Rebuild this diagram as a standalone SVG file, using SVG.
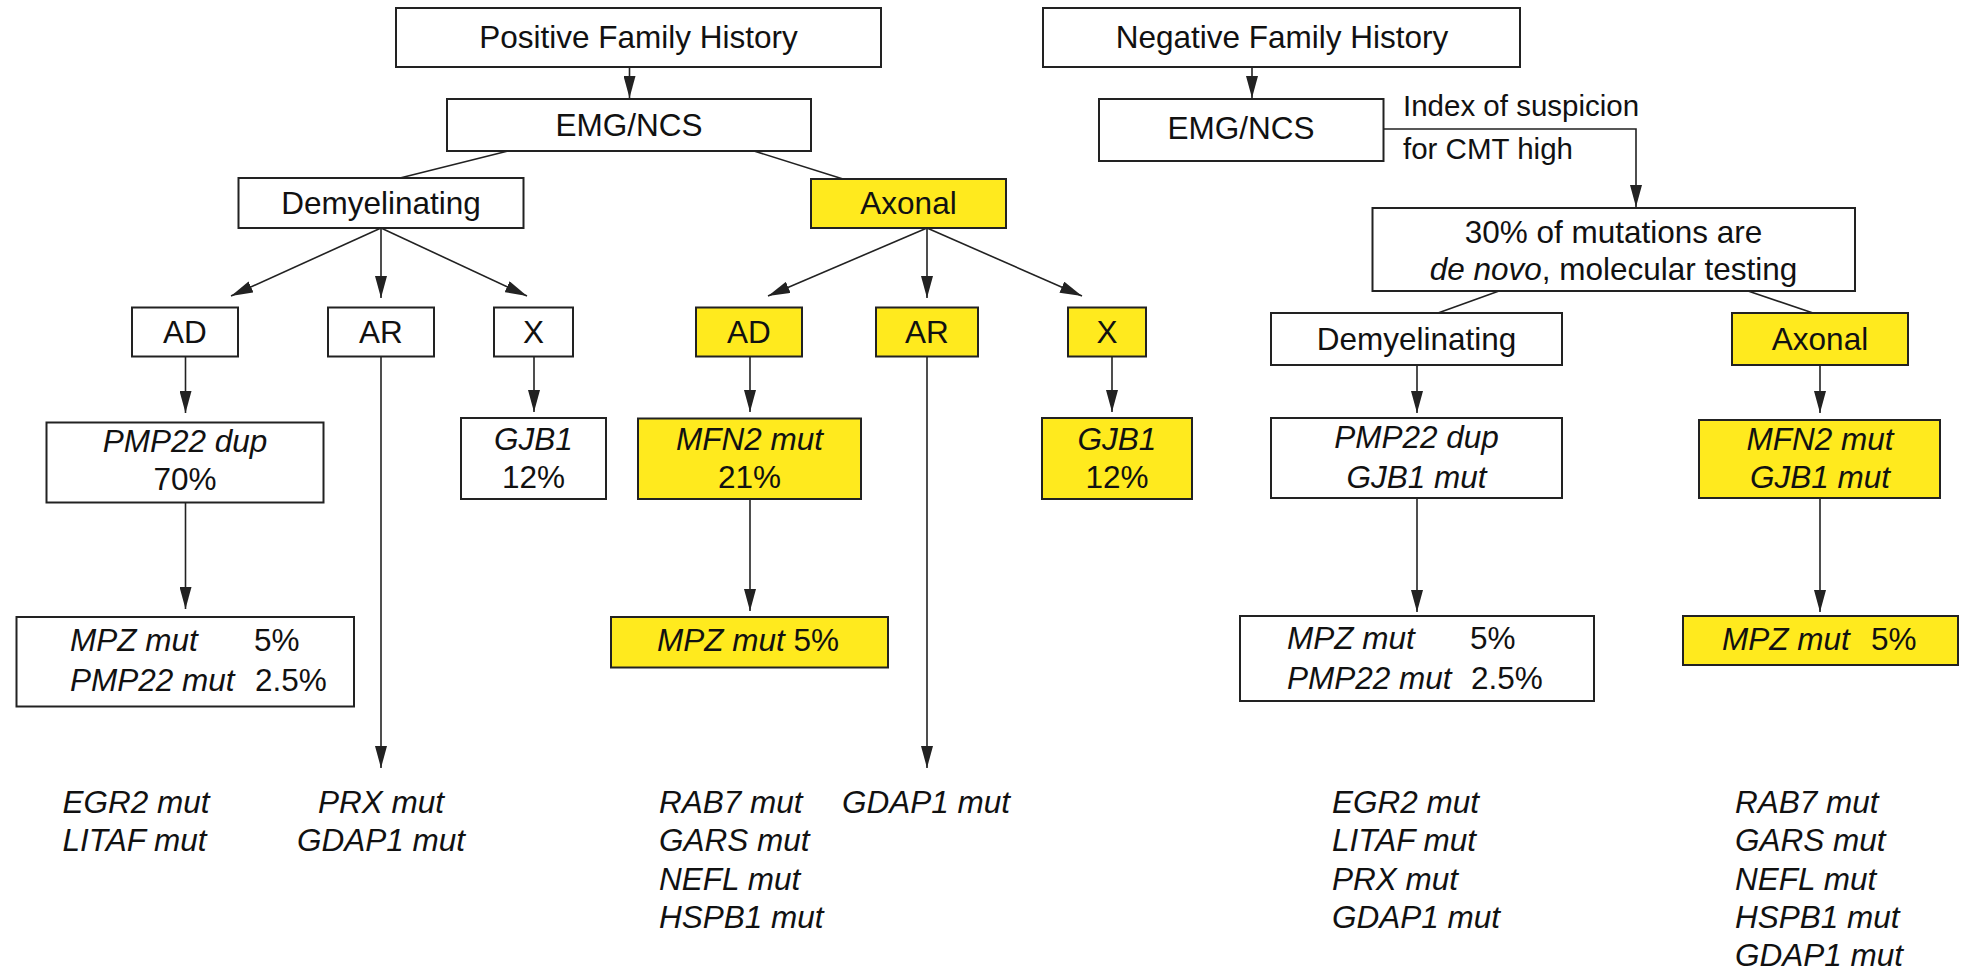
<svg xmlns="http://www.w3.org/2000/svg" width="1966" height="971" viewBox="0 0 1966 971">
<style>
.b{fill:#fff;stroke:#222;stroke-width:2}
.y{fill:#FFEA1E;stroke:#222;stroke-width:2}
text{font-family:"Liberation Sans",Arial,sans-serif;font-size:31.5px;fill:#111}
.c{text-anchor:middle}
.i{font-style:italic}
.s{font-size:29.5px}
#connectors line,#connectors polyline{stroke:#222;stroke-width:1.6;fill:none}
</style>
<defs>
<marker id="ah" markerUnits="userSpaceOnUse" markerWidth="22" markerHeight="12" refX="22" refY="6" orient="auto">
<path d="M0,0 L22,6 L0,12 z" fill="#222"/>
</marker>
</defs>
<rect width="1966" height="971" fill="#fff"/>
<g id="connectors">
<line x1="629.5" y1="67" x2="629.5" y2="98" marker-end="url(#ah)"/>
<line x1="508" y1="151" x2="400" y2="178"/>
<line x1="754" y1="151" x2="843" y2="179"/>
<line x1="381" y1="228" x2="231" y2="296" marker-end="url(#ah)"/>
<line x1="381" y1="228" x2="381" y2="298" marker-end="url(#ah)"/>
<line x1="381" y1="228" x2="527" y2="296" marker-end="url(#ah)"/>
<line x1="927" y1="228" x2="768" y2="296" marker-end="url(#ah)"/>
<line x1="927" y1="228" x2="927" y2="298" marker-end="url(#ah)"/>
<line x1="927" y1="228" x2="1082" y2="296" marker-end="url(#ah)"/>
<line x1="185.5" y1="357" x2="185.5" y2="413" marker-end="url(#ah)"/>
<line x1="185.5" y1="502" x2="185.5" y2="609" marker-end="url(#ah)"/>
<line x1="381" y1="357" x2="381" y2="768" marker-end="url(#ah)"/>
<line x1="534" y1="357" x2="534" y2="412" marker-end="url(#ah)"/>
<line x1="750" y1="357" x2="750" y2="412" marker-end="url(#ah)"/>
<line x1="750" y1="499" x2="750" y2="611" marker-end="url(#ah)"/>
<line x1="927" y1="357" x2="927" y2="768" marker-end="url(#ah)"/>
<line x1="1112" y1="357" x2="1112" y2="412" marker-end="url(#ah)"/>
<line x1="1252" y1="67" x2="1252" y2="98" marker-end="url(#ah)"/>
<polyline points="1383.5,129 1636,129 1636,207" marker-end="url(#ah)"/>
<line x1="1499" y1="291" x2="1438" y2="313"/>
<line x1="1748" y1="291" x2="1813" y2="313"/>
<line x1="1417" y1="365" x2="1417" y2="413" marker-end="url(#ah)"/>
<line x1="1820" y1="365" x2="1820" y2="413" marker-end="url(#ah)"/>
<line x1="1417" y1="498" x2="1417" y2="612" marker-end="url(#ah)"/>
<line x1="1820" y1="498" x2="1820" y2="612" marker-end="url(#ah)"/>
</g>
<g id="posFH"><rect class="b" x="396" y="8" width="485" height="59"/><text class="c" x="638.5" y="48">Positive Family History</text></g>
<g id="posEMG"><rect class="b" x="447" y="99" width="364" height="52"/><text class="c" x="629" y="136">EMG/NCS</text></g>
<g id="posDem"><rect class="b" x="238.5" y="178" width="285" height="50"/><text class="c" x="381" y="214">Demyelinating</text></g>
<g id="posAx"><rect class="y" x="811" y="179" width="195" height="49"/><text class="c" x="908.5" y="214">Axonal</text></g>
<g id="posDemAD"><rect class="b" x="132" y="307.5" width="106" height="49"/><text class="c" x="185" y="343">AD</text></g>
<g id="posDemAR"><rect class="b" x="328" y="307.5" width="106" height="49"/><text class="c" x="381" y="343">AR</text></g>
<g id="posDemX"><rect class="b" x="494" y="307.5" width="79" height="49"/><text class="c" x="533.5" y="343">X</text></g>
<g id="posAxAD"><rect class="y" x="696" y="307.5" width="106" height="49"/><text class="c" x="749" y="343">AD</text></g>
<g id="posAxAR"><rect class="y" x="876" y="307.5" width="102" height="49"/><text class="c" x="927" y="343">AR</text></g>
<g id="posAxX"><rect class="y" x="1068" y="307.5" width="78" height="49"/><text class="c" x="1107" y="343">X</text></g>
<g id="posPMPdup"><rect class="b" x="46.5" y="422.5" width="277" height="80"/><text class="c i" x="185" y="452">PMP22 dup</text><text class="c" x="185" y="490">70%</text></g>
<g id="posGJB1"><rect class="b" x="461" y="418" width="145" height="81"/><text class="c i" x="533.5" y="450">GJB1</text><text class="c" x="533.5" y="488">12%</text></g>
<g id="posMFN2"><rect class="y" x="638" y="418.5" width="223" height="80.5"/><text class="c i" x="749.5" y="450">MFN2 mut</text><text class="c" x="749.5" y="488">21%</text></g>
<g id="posAxGJB1"><rect class="y" x="1042" y="418" width="150" height="81"/><text class="c i" x="1117" y="450">GJB1</text><text class="c" x="1117" y="488">12%</text></g>
<g id="posMPZ"><rect class="b" x="16.5" y="617" width="337.5" height="89.5"/><text class="i" x="70" y="651">MPZ mut</text><text x="254" y="651">5%</text><text class="i" x="70" y="691">PMP22 mut</text><text x="255" y="691">2.5%</text></g>
<g id="posMPZ5"><rect class="y" x="611" y="617" width="277" height="50.5"/><text x="657" y="651"><tspan class="i">MPZ mut</tspan> 5%</text></g>
<g id="negFH"><rect class="b" x="1043" y="8" width="477" height="59"/><text class="c" x="1282" y="48">Negative Family History</text></g>
<g id="negEMG"><rect class="b" x="1099" y="99" width="284.5" height="62"/><text class="c" x="1241" y="139">EMG/NCS</text></g>
<g id="indexLabel"><text class="s" x="1403" y="116">Index of suspicion</text><text class="s" x="1403" y="159">for CMT high</text></g>
<g id="box30"><rect class="b" x="1372.5" y="208" width="482.5" height="83"/><text class="c" x="1613.5" y="243">30% of mutations are</text><text class="c" x="1613.5" y="280"><tspan class="i">de novo</tspan>, molecular testing</text></g>
<g id="negDem"><rect class="b" x="1271" y="313" width="291" height="52"/><text class="c" x="1416.5" y="350">Demyelinating</text></g>
<g id="negAx"><rect class="y" x="1732" y="313" width="176" height="52"/><text class="c" x="1820" y="350">Axonal</text></g>
<g id="negPMP"><rect class="b" x="1271" y="418" width="291" height="80"/><text class="c i" x="1416.5" y="448">PMP22 dup</text><text class="c i" x="1416.5" y="488">GJB1 mut</text></g>
<g id="negMFN"><rect class="y" x="1699" y="420" width="241" height="78"/><text class="c i" x="1820" y="450">MFN2 mut</text><text class="c i" x="1820" y="488">GJB1 mut</text></g>
<g id="negMPZ"><rect class="b" x="1240" y="616" width="354" height="85"/><text class="i" x="1287" y="649">MPZ mut</text><text x="1470" y="649">5%</text><text class="i" x="1287" y="689">PMP22 mut</text><text x="1471" y="689">2.5%</text></g>
<g id="negMPZ5"><rect class="y" x="1683" y="616" width="275" height="49"/><text class="i" x="1722" y="650">MPZ mut</text><text x="1871" y="650">5%</text></g>
<g id="list1" class="i"><text class="i" x="62.5" y="813">EGR2 mut</text><text class="i" x="62.5" y="851">LITAF mut</text></g>
<g id="list2"><text class="c i" x="381" y="813">PRX mut</text><text class="c i" x="381" y="851">GDAP1 mut</text></g>
<g id="list3"><text class="i" x="659" y="813">RAB7 mut</text><text class="i" x="659" y="851">GARS mut</text><text class="i" x="659" y="889.5">NEFL mut</text><text class="i" x="659" y="928">HSPB1 mut</text></g>
<g id="list4"><text class="i" x="842" y="813">GDAP1 mut</text></g>
<g id="list5"><text class="i" x="1332" y="813">EGR2 mut</text><text class="i" x="1332" y="851">LITAF mut</text><text class="i" x="1332" y="889.5">PRX mut</text><text class="i" x="1332" y="928">GDAP1 mut</text></g>
<g id="list6"><text class="i" x="1735" y="813">RAB7 mut</text><text class="i" x="1735" y="851">GARS mut</text><text class="i" x="1735" y="889.5">NEFL mut</text><text class="i" x="1735" y="928">HSPB1 mut</text><text class="i" x="1735" y="966">GDAP1 mut</text></g>
</svg>
